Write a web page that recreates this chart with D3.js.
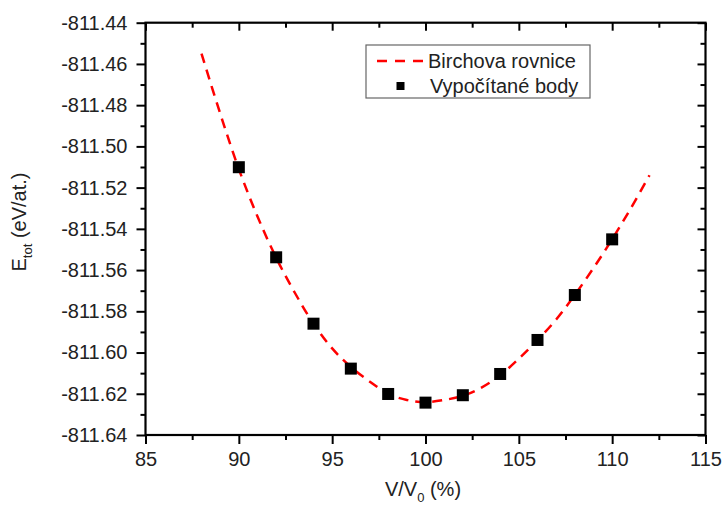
<!DOCTYPE html>
<html>
<head>
<meta charset="utf-8">
<script src="https://cdn.jsdelivr.net/npm/d3@7"></script>
<style>
  html, body { margin: 0; padding: 0; background: #fff; overflow: hidden; }
  svg { display: block; }
  svg text { font-family: "Liberation Sans", Arial, sans-serif; fill: #222; }
</style>
</head>
<body>
<svg width="723" height="509"></svg>
<script>
// computed points
const pointsX = [90, 92, 94, 96, 98, 100, 102, 104, 106, 108, 110];
const pointsE = [-811.5101, -811.5538, -811.5860, -811.6078, -811.6201, -811.6243,
                 -811.6207, -811.6104, -811.5939, -811.5721, -811.5451];

// Birch fit curve
const curveX = [88, 89, 90, 91, 92, 93, 94, 95, 96, 97, 98, 99, 100,
                101, 102, 103, 104, 105, 106, 107, 108, 109, 110, 111, 112];
const curveE = [-811.455, -811.484, -811.511, -811.534, -811.554, -811.571, -811.586,
                -811.598, -811.607, -811.614, -811.620, -811.623, -811.624, -811.623,
                -811.621, -811.617, -811.611, -811.603, -811.594, -811.584, -811.572,
                -811.559, -811.545, -811.530, -811.514];

const xTicks = [85, 90, 95, 100, 105, 110, 115];
const xMinor = [87.5, 92.5, 97.5, 102.5, 107.5, 112.5];
const yTicks = [-811.64, -811.62, -811.60, -811.58, -811.56, -811.54, -811.52,
                -811.50, -811.48, -811.46, -811.44];
const yMinor = [-811.63, -811.61, -811.59, -811.57, -811.55, -811.53, -811.51,
                -811.49, -811.47, -811.45];

const svg = d3.select("svg");
const margin = { top: 22.7, right: 17.5, bottom: 74, left: 145.5 };
const width = +svg.attr("width");
const height = +svg.attr("height");
const innerWidth = width - margin.left - margin.right;
const innerHeight = height - margin.top - margin.bottom;

const xScale = d3.scaleLinear().domain([85, 115]).range([0, innerWidth]);
const yScale = d3.scaleLinear().domain([-811.64, -811.44]).range([innerHeight, 0]);

const g = svg.append("g").attr("transform", `translate(${margin.left},${margin.top})`);

const styleAxis = sel => {
  sel.select(".domain").remove();
  sel.selectAll(".tick line").attr("stroke", "#000").attr("stroke-width", 2);
  sel.selectAll(".tick text").attr("font-size", 20).attr("fill", "#222");
};
// ticks only, no labels
const bare = sel => {
  styleAxis(sel);
  sel.selectAll(".tick text").remove();
};

// bottom
g.append("g").attr("transform", `translate(0,${innerHeight})`)
  .call(d3.axisBottom(xScale).tickValues(xTicks).tickSize(9).tickPadding(8).tickFormat(d3.format("d")))
  .call(styleAxis);
g.append("g").attr("transform", `translate(0,${innerHeight})`)
  .call(d3.axisBottom(xScale).tickValues(xMinor).tickSize(5))
  .call(bare);
// top (inward)
g.append("g")
  .call(d3.axisBottom(xScale).tickValues(xTicks).tickSize(8))
  .call(bare);
g.append("g")
  .call(d3.axisBottom(xScale).tickValues(xMinor).tickSize(5))
  .call(bare);
// left
g.append("g")
  .call(d3.axisLeft(yScale).tickValues(yTicks).tickSize(9).tickPadding(9).tickFormat(d3.format(".2f")))
  .call(styleAxis);
g.append("g")
  .call(d3.axisLeft(yScale).tickValues(yMinor).tickSize(5))
  .call(bare);
// right (inward)
g.append("g").attr("transform", `translate(${innerWidth},0)`)
  .call(d3.axisLeft(yScale).tickValues(yTicks).tickSize(8))
  .call(bare);
g.append("g").attr("transform", `translate(${innerWidth},0)`)
  .call(d3.axisLeft(yScale).tickValues(yMinor).tickSize(5))
  .call(bare);

g.selectAll(".tick text").text(function () { return this.textContent.replace("\u2212", "-"); });

// frame
g.append("rect")
  .attr("width", innerWidth).attr("height", innerHeight)
  .attr("fill", "none").attr("stroke", "#000").attr("stroke-width", 2.2);

// fit curve
const line = d3.line()
  .x((d, i) => xScale(curveX[i]))
  .y(d => yScale(d))
  .curve(d3.curveCatmullRom);

g.append("path")
  .datum(curveE)
  .attr("d", line)
  .attr("fill", "none")
  .attr("stroke", "#ff0000")
  .attr("stroke-width", 2.5)
  .attr("stroke-dasharray", "10,7");

// points
const sz = 12;
g.selectAll("rect.pt").data(pointsE).enter().append("rect")
  .attr("class", "pt")
  .attr("x", (d, i) => xScale(pointsX[i]) - sz / 2)
  .attr("y", d => yScale(d) - sz / 2)
  .attr("width", sz).attr("height", sz)
  .attr("fill", "#000");

// legend
const legend = svg.append("g").attr("transform", "translate(366,45)");
legend.append("rect")
  .attr("width", 224).attr("height", 53)
  .attr("fill", "#fff").attr("stroke", "#666").attr("stroke-width", 1.2);
legend.append("line")
  .attr("x1", 11).attr("x2", 58).attr("y1", 16).attr("y2", 16)
  .attr("stroke", "#ff0000").attr("stroke-width", 2.5).attr("stroke-dasharray", "10,8");
legend.append("text").attr("x", 62).attr("y", 22.5).attr("font-size", 20).text("Birchova rovnice");
legend.append("rect")
  .attr("x", 30.5).attr("y", 37).attr("width", 8).attr("height", 8).attr("fill", "#000");
legend.append("text").attr("x", 64).attr("y", 48).attr("font-size", 20).text("Vypočítané body");

// axis titles
const xt = svg.append("text")
  .attr("x", 423).attr("y", 496).attr("text-anchor", "middle").attr("font-size", 20);
xt.append("tspan").text("V/V");
xt.append("tspan").attr("font-size", 13).attr("dy", 6).text("0");
xt.append("tspan").attr("dy", -6).text(" (%)");

const yt = svg.append("text")
  .attr("transform", "translate(26,222) rotate(-90)")
  .attr("text-anchor", "middle").attr("font-size", 20);
yt.append("tspan").text("E");
yt.append("tspan").attr("font-size", 13).attr("dy", 6).text("tot");
yt.append("tspan").attr("dy", -6).text(" (eV/at.)");
</script>
</body>
</html>
